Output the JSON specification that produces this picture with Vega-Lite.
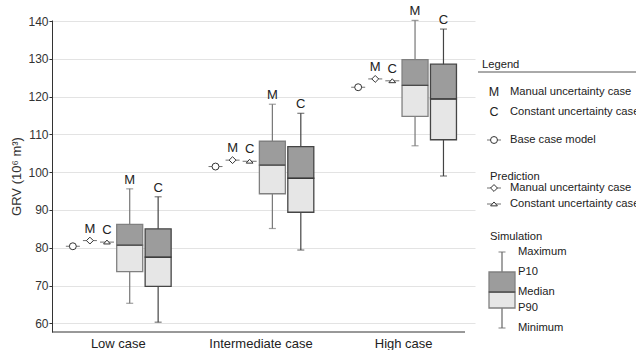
{
  "$schema": "https://vega.github.io/schema/vega-lite/v6.json",
  "padding": {"left": 10, "top": 5, "right": 0, "bottom": 0},
  "spacing": 13,
  "bounds": "flush",
  "config": {
    "font": "Liberation Sans",
    "view": {"stroke": null},
    "axisY": {"grid": true, "gridColor": "#e3e3e3", "tickSize": 3, "tickColor": "#333", "domainColor": "#333", "labelFontSize": 12, "labelColor": "#333", "labelPadding": 1, "titleFontSize": 13, "titleFontWeight": "normal", "titleColor": "#333", "titlePadding": 4}
  },
  "datasets": {
    "boxes": [
      {"case": "Low case", "method": "simM", "label": "M", "min": 65.3, "p90": 73.7, "median": 80.7, "p10": 86.2, "max": 95.6},
      {"case": "Low case", "method": "simC", "label": "C", "min": 60.3, "p90": 69.8, "median": 77.5, "p10": 85.0, "max": 93.5},
      {"case": "Intermediate case", "method": "simM", "label": "M", "min": 85.1, "p90": 94.3, "median": 101.9, "p10": 108.2, "max": 118.0},
      {"case": "Intermediate case", "method": "simC", "label": "C", "min": 79.4, "p90": 89.4, "median": 98.4, "p10": 106.8, "max": 115.6},
      {"case": "High case", "method": "simM", "label": "M", "min": 107.0, "p90": 114.8, "median": 123.0, "p10": 129.8, "max": 140.2},
      {"case": "High case", "method": "simC", "label": "C", "min": 99.0, "p90": 108.6, "median": 119.4, "p10": 128.6, "max": 137.9}
    ],
    "points": [
      {"case": "Low case", "method": "base", "label": null, "value": 80.4},
      {"case": "Low case", "method": "predM", "label": "M", "value": 81.9},
      {"case": "Low case", "method": "predC", "label": "C", "value": 81.5},
      {"case": "Intermediate case", "method": "base", "label": null, "value": 101.5},
      {"case": "Intermediate case", "method": "predM", "label": "M", "value": 103.2},
      {"case": "Intermediate case", "method": "predC", "label": "C", "value": 102.9},
      {"case": "High case", "method": "base", "label": null, "value": 122.5},
      {"case": "High case", "method": "predM", "label": "M", "value": 124.7},
      {"case": "High case", "method": "predC", "label": "C", "value": 124.2}
    ],
    "legendText": [
      {"role": "heading", "col": "heading", "line": "heading", "text": "Legend"},
      {"role": "letter", "col": "sym", "line": "M", "text": "M"},
      {"role": "letter", "col": "sym", "line": "C", "text": "C"},
      {"role": "entry", "col": "text", "line": "M", "text": "Manual uncertainty case"},
      {"role": "entry", "col": "text", "line": "C", "text": "Constant uncertainty case"},
      {"role": "entry", "col": "text", "line": "base", "text": "Base case model"},
      {"role": "heading", "col": "sub", "line": "predTitle", "text": "Prediction"},
      {"role": "entry", "col": "text", "line": "predM", "text": "Manual uncertainty case"},
      {"role": "entry", "col": "text", "line": "predC", "text": "Constant uncertainty case"},
      {"role": "heading", "col": "sub", "line": "simTitle", "text": "Simulation"},
      {"role": "entry", "col": "boxlabel", "line": "max", "text": "Maximum"},
      {"role": "entry", "col": "boxlabel", "line": "p10", "text": "P10"},
      {"role": "entry", "col": "boxlabel", "line": "median", "text": "Median"},
      {"role": "entry", "col": "boxlabel", "line": "p90", "text": "P90"},
      {"role": "entry", "col": "boxlabel", "line": "min", "text": "Minimum"}
    ],
    "legendSymbols": [
      {"col": "sym", "line": "base", "method": "base"},
      {"col": "sym", "line": "predM", "method": "predM"},
      {"col": "sym", "line": "predC", "method": "predC"}
    ],
    "legendRule": [
      {"col": "ruleStart", "col2": "ruleEnd", "line": "rule"}
    ],
    "legendBox": [
      {"col": "box", "line": "min", "line2": "max", "low": "p90", "mid": "median", "high": "p10"}
    ],
    "legendCaps": [
      {"col": "box", "line": "min"},
      {"col": "box", "line": "max"}
    ]
  },
  "hconcat": [
    {
      "width": 413,
      "height": 312,
      "layer": [
        {
          "data": {"name": "boxes"},
          "mark": {"type": "rule", "strokeWidth": 1.2},
          "encoding": {
            "x": {"field": "case", "type": "nominal",
              "scale": {"domain": ["Low case", "Intermediate case", "High case"], "range": [-5, 423], "paddingInner": 0, "paddingOuter": 0},
              "axis": {"title": null, "labelAngle": 0, "ticks": false, "domain": false, "grid": false, "labelFontSize": 13, "labelColor": "#222", "labelPadding": 5}},
            "xOffset": {"field": "method", "type": "nominal",
              "scale": {"type": "point", "domain": ["o1", "o2", "o3", "o4", "base", "o5", "o6", "predM", "o7", "o8", "predC", "o9", "o10", "o11", "simM", "o12", "o13", "o14", "o15", "simC", "o16", "o17", "o18", "o19", "o20"], "padding": 0.544}},
            "y": {"field": "min", "type": "quantitative", "title": "GRV (10⁶ m³)",
              "scale": {"domain": [57.7, 140.3], "nice": false, "zero": false},
              "axis": {"values": [60, 70, 80, 90, 100, 110, 120, 130, 140]}},
            "y2": {"field": "max"},
            "color": {"field": "method", "type": "nominal", "scale": {"domain": ["simM", "simC"], "range": ["#777777", "#444444"]}, "legend": null}
          }
        },
        {
          "data": {"name": "boxes"},
          "mark": {"type": "tick", "size": 7, "thickness": 1.2},
          "encoding": {
            "x": {"field": "case", "type": "nominal"},
            "xOffset": {"field": "method", "type": "nominal"},
            "y": {"field": "min", "type": "quantitative", "title": "GRV (10⁶ m³)", "axis": {"values": [60, 70, 80, 90, 100, 110, 120, 130, 140]}},
            "color": {"field": "method", "type": "nominal", "legend": null}
          }
        },
        {
          "data": {"name": "boxes"},
          "mark": {"type": "tick", "size": 7, "thickness": 1.2},
          "encoding": {
            "x": {"field": "case", "type": "nominal"},
            "xOffset": {"field": "method", "type": "nominal"},
            "y": {"field": "max", "type": "quantitative", "title": "GRV (10⁶ m³)", "axis": {"values": [60, 70, 80, 90, 100, 110, 120, 130, 140]}},
            "color": {"field": "method", "type": "nominal", "legend": null}
          }
        },
        {
          "data": {"name": "boxes"},
          "mark": {"type": "bar", "width": 26, "fill": "#e6e6e6", "strokeWidth": 1.3},
          "encoding": {
            "x": {"field": "case", "type": "nominal"},
            "xOffset": {"field": "method", "type": "nominal"},
            "y": {"field": "p90", "type": "quantitative", "title": "GRV (10⁶ m³)", "axis": {"values": [60, 70, 80, 90, 100, 110, 120, 130, 140]}},
            "y2": {"field": "median"},
            "stroke": {"field": "method", "type": "nominal", "scale": {"domain": ["simM", "simC"], "range": ["#808080", "#454545"]}, "legend": null}
          }
        },
        {
          "data": {"name": "boxes"},
          "mark": {"type": "bar", "width": 26, "fill": "#9c9c9c", "strokeWidth": 1.3},
          "encoding": {
            "x": {"field": "case", "type": "nominal"},
            "xOffset": {"field": "method", "type": "nominal"},
            "y": {"field": "median", "type": "quantitative", "title": "GRV (10⁶ m³)", "axis": {"values": [60, 70, 80, 90, 100, 110, 120, 130, 140]}},
            "y2": {"field": "p10"},
            "stroke": {"field": "method", "type": "nominal", "legend": null}
          }
        },
        {
          "data": {"name": "boxes"},
          "mark": {"type": "tick", "size": 26, "thickness": 1.3, "color": "#333"},
          "encoding": {
            "x": {"field": "case", "type": "nominal"},
            "xOffset": {"field": "method", "type": "nominal"},
            "y": {"field": "median", "type": "quantitative", "title": "GRV (10⁶ m³)", "axis": {"values": [60, 70, 80, 90, 100, 110, 120, 130, 140]}}
          }
        },
        {
          "data": {"name": "boxes"},
          "mark": {"type": "text", "baseline": "bottom", "dy": -2, "fontSize": 13, "color": "#222"},
          "encoding": {
            "x": {"field": "case", "type": "nominal"},
            "xOffset": {"field": "method", "type": "nominal"},
            "y": {"field": "max", "type": "quantitative", "title": "GRV (10⁶ m³)", "axis": {"values": [60, 70, 80, 90, 100, 110, 120, 130, 140]}},
            "text": {"field": "label"}
          }
        },
        {
          "data": {"name": "points"},
          "mark": {"type": "tick", "size": 14, "thickness": 1, "color": "#333"},
          "encoding": {
            "x": {"field": "case", "type": "nominal"},
            "xOffset": {"field": "method", "type": "nominal"},
            "y": {"field": "value", "type": "quantitative", "title": "GRV (10⁶ m³)", "axis": {"values": [60, 70, 80, 90, 100, 110, 120, 130, 140]}}
          }
        },
        {
          "data": {"name": "points"},
          "mark": {"type": "point", "filled": true, "fill": "white", "stroke": "#333", "strokeWidth": 1, "opacity": 1},
          "encoding": {
            "x": {"field": "case", "type": "nominal"},
            "xOffset": {"field": "method", "type": "nominal"},
            "y": {"field": "value", "type": "quantitative", "title": "GRV (10⁶ m³)", "axis": {"values": [60, 70, 80, 90, 100, 110, 120, 130, 140]}},
            "shape": {"field": "method", "type": "nominal", "scale": {"domain": ["base", "predM", "predC"], "range": ["circle", "diamond", "M-1,0.55L1,0.55L0,-0.6Z"]}, "legend": null},
            "size": {"field": "method", "type": "nominal", "scale": {"domain": ["base", "predM", "predC"], "range": [48, 46, 40]}, "legend": null}
          }
        },
        {
          "data": {"name": "points"},
          "transform": [{"filter": "datum.label != null"}],
          "mark": {"type": "text", "baseline": "bottom", "dy": -5, "fontSize": 13, "color": "#222"},
          "encoding": {
            "x": {"field": "case", "type": "nominal"},
            "xOffset": {"field": "method", "type": "nominal"},
            "y": {"field": "value", "type": "quantitative", "title": "GRV (10⁶ m³)", "axis": {"values": [60, 70, 80, 90, 100, 110, 120, 130, 140]}},
            "text": {"field": "label"}
          }
        },
        {
          "data": {"values": [{}]},
          "mark": {"type": "rule", "color": "#333", "strokeWidth": 1},
          "encoding": {"y": {"datum": 57.7, "type": "quantitative", "title": "GRV (10⁶ m³)", "axis": {"values": [60, 70, 80, 90, 100, 110, 120, 130, 140]}}}
        }
      ]
    },
    {
      "width": 160,
      "height": 312,
      "layer": [
        {
          "data": {"name": "legendRule"},
          "mark": {"type": "rule", "color": "#555", "strokeWidth": 1},
          "encoding": {
            "x": {"field": "col", "type": "nominal", "axis": null,
              "scale": {"type": "point", "range": [0, 160], "padding": 0, "domain": ["ruleStart", "heading", "_x2", "sub", "sym", "_x5", "box", "_x7", "text", "_x9", "boxlabel", "_x11", "_x12", "_x13", "_x14", "_x15", "_x16", "_x17", "_x18", "_x19", "_x20", "_x21", "_x22", "_x23", "_x24", "_x25", "_x26", "_x27", "_x28", "_x29", "_x30", "_x31", "_x32", "_x33", "_x34", "_x35", "_x36", "_x37", "_x38", "_x39", "ruleEnd"]}},
            "x2": {"field": "col2"},
            "y": {"field": "line", "type": "nominal", "axis": null,
              "scale": {"type": "point", "range": [0, 312], "padding": 0, "domain": ["_y0", "_y1", "_y2", "_y3", "_y4", "_y5", "_y6", "_y7", "_y8", "_y9", "_y10", "heading", "_y12", "rule", "_y14", "_y15", "_y16", "_y17", "M", "_y19", "_y20", "_y21", "_y22", "C", "_y24", "_y25", "_y26", "_y27", "_y28", "_y29", "base", "_y31", "_y32", "_y33", "_y34", "_y35", "_y36", "_y37", "_y38", "predTitle", "_y40", "_y41", "predM", "_y43", "_y44", "_y45", "predC", "_y47", "_y48", "_y49", "_y50", "_y51", "_y52", "_y53", "simTitle", "_y55", "_y56", "_y57", "max", "_y59", "_y60", "_y61", "_y62", "p10", "_y64", "_y65", "_y66", "_y67", "median", "_y69", "_y70", "_y71", "p90", "_y73", "_y74", "_y75", "_y76", "min", "_y78"]}}
          }
        },
        {
          "data": {"name": "legendText"},
          "transform": [{"filter": "datum.role == 'heading'"}],
          "mark": {"type": "text", "align": "left", "baseline": "middle", "fontSize": 11.2, "dy": 1, "color": "#222"},
          "encoding": {
            "x": {"field": "col", "type": "nominal", "axis": null},
            "y": {"field": "line", "type": "nominal", "axis": null},
            "text": {"field": "text"}
          }
        },
        {
          "data": {"name": "legendText"},
          "transform": [{"filter": "datum.role == 'entry'"}],
          "mark": {"type": "text", "align": "left", "baseline": "middle", "fontSize": 11.2, "color": "#222"},
          "encoding": {
            "x": {"field": "col", "type": "nominal", "axis": null},
            "y": {"field": "line", "type": "nominal", "axis": null},
            "text": {"field": "text"}
          }
        },
        {
          "data": {"name": "legendText"},
          "transform": [{"filter": "datum.role == 'letter'"}],
          "mark": {"type": "text", "align": "center", "baseline": "middle", "fontSize": 12.5, "color": "#222"},
          "encoding": {
            "x": {"field": "col", "type": "nominal", "axis": null},
            "y": {"field": "line", "type": "nominal", "axis": null},
            "text": {"field": "text"}
          }
        },
        {
          "data": {"name": "legendSymbols"},
          "mark": {"type": "tick", "size": 14, "thickness": 1, "color": "#333", "orient": "horizontal"},
          "encoding": {
            "x": {"field": "col", "type": "nominal", "axis": null},
            "y": {"field": "line", "type": "nominal", "axis": null}
          }
        },
        {
          "data": {"name": "legendSymbols"},
          "mark": {"type": "point", "filled": true, "fill": "white", "stroke": "#333", "strokeWidth": 1, "opacity": 1},
          "encoding": {
            "x": {"field": "col", "type": "nominal", "axis": null},
            "y": {"field": "line", "type": "nominal", "axis": null},
            "shape": {"field": "method", "type": "nominal", "legend": null},
            "size": {"field": "method", "type": "nominal", "legend": null}
          }
        },
        {
          "data": {"name": "legendBox"},
          "mark": {"type": "rule", "color": "#666", "strokeWidth": 1.2},
          "encoding": {
            "x": {"field": "col", "type": "nominal", "axis": null},
            "y": {"field": "line", "type": "nominal", "axis": null},
            "y2": {"field": "line2"}
          }
        },
        {
          "data": {"name": "legendCaps"},
          "mark": {"type": "tick", "size": 7, "thickness": 1.2, "color": "#666", "orient": "horizontal"},
          "encoding": {
            "x": {"field": "col", "type": "nominal", "axis": null},
            "y": {"field": "line", "type": "nominal", "axis": null}
          }
        },
        {
          "data": {"name": "legendBox"},
          "mark": {"type": "bar", "width": 26, "fill": "#e6e6e6", "stroke": "#808080", "strokeWidth": 1.3},
          "encoding": {
            "x": {"field": "col", "type": "nominal", "axis": null},
            "y": {"field": "low", "type": "nominal", "axis": null},
            "y2": {"field": "mid"}
          }
        },
        {
          "data": {"name": "legendBox"},
          "mark": {"type": "bar", "width": 26, "fill": "#9c9c9c", "stroke": "#808080", "strokeWidth": 1.3},
          "encoding": {
            "x": {"field": "col", "type": "nominal", "axis": null},
            "y": {"field": "mid", "type": "nominal", "axis": null},
            "y2": {"field": "high"}
          }
        },
        {
          "data": {"name": "legendBox"},
          "mark": {"type": "tick", "size": 26, "thickness": 1.3, "color": "#333", "orient": "horizontal"},
          "encoding": {
            "x": {"field": "col", "type": "nominal", "axis": null},
            "y": {"field": "mid", "type": "nominal", "axis": null}
          }
        }
      ]
    }
  ]
}
